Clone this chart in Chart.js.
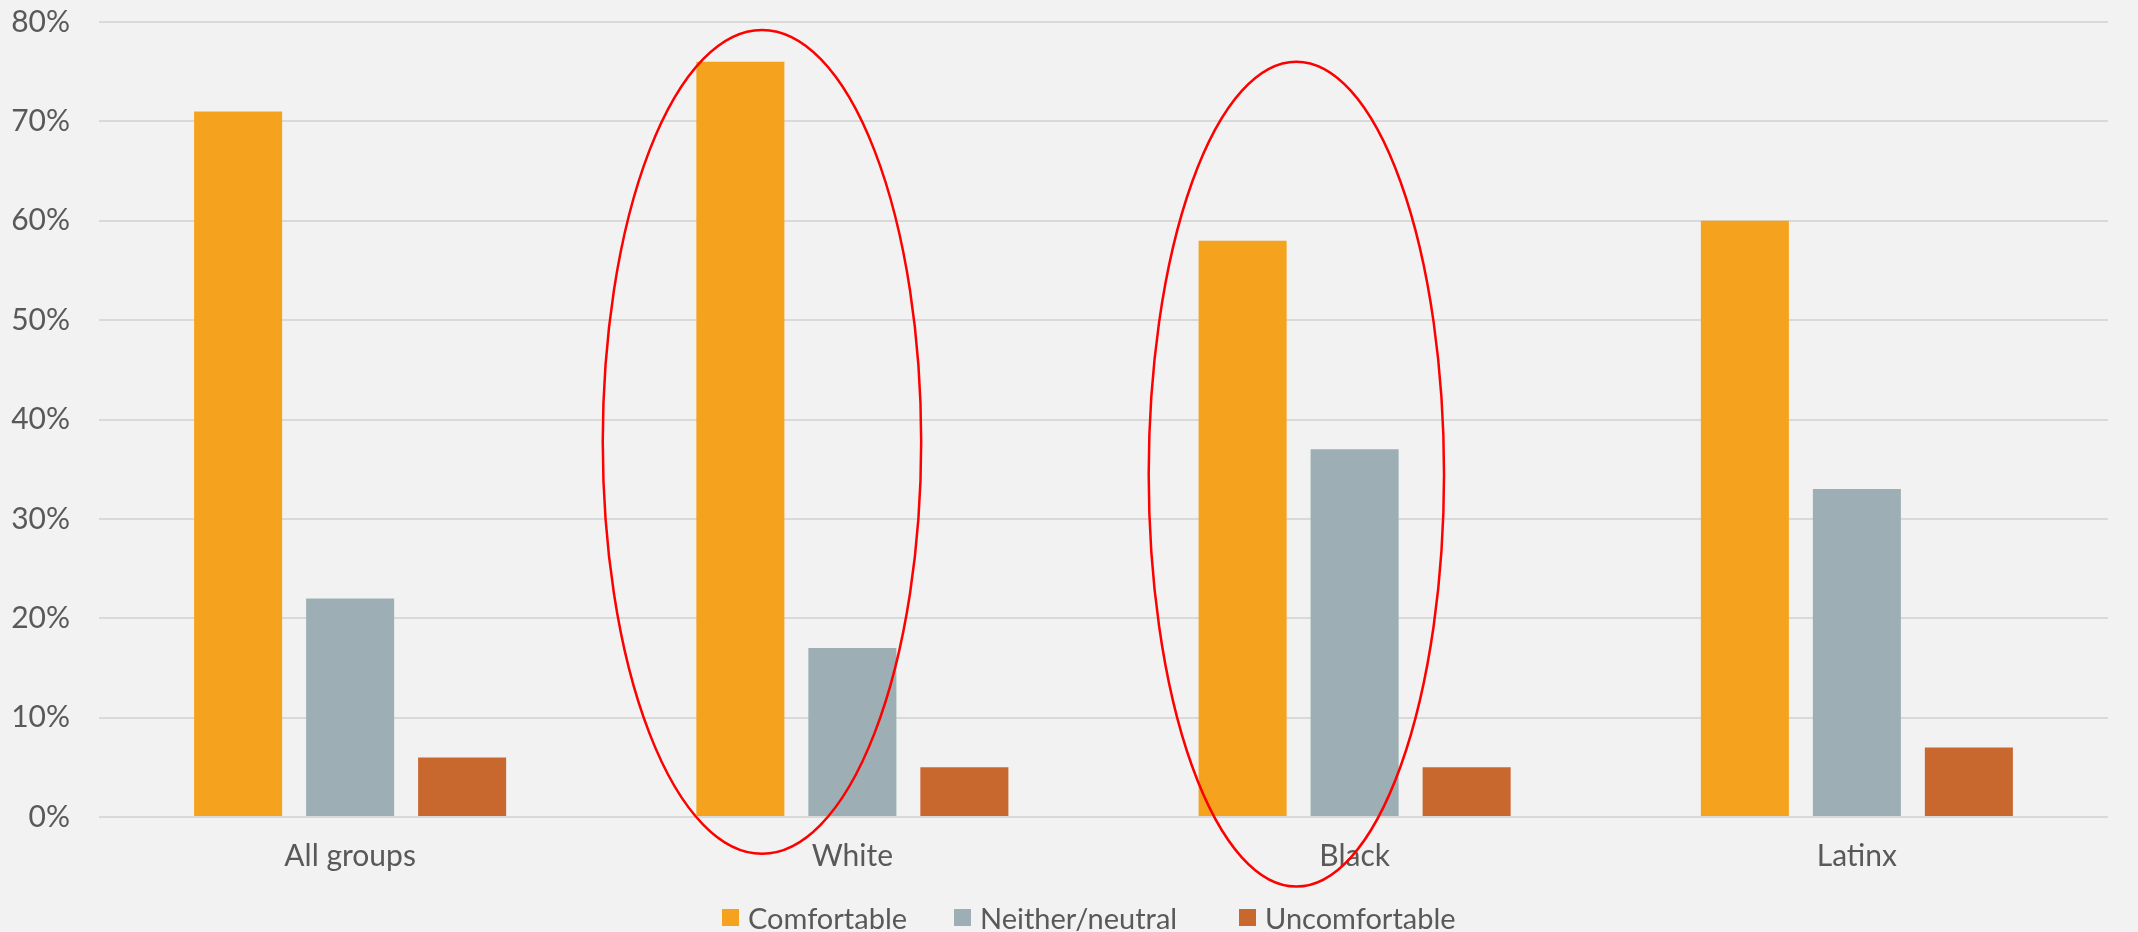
<!DOCTYPE html>
<html>
<head>
<meta charset="utf-8">
<script src="https://cdn.jsdelivr.net/npm/chart.js@4"></script>
<style>
  html, body { margin: 0; padding: 0; background: #f2f2f2; }
  #wrap { position: relative; width: 2138px; height: 932px; }
  #legend {
    position: absolute; left: 722px; top: 900px; height: 35px;
    display: flex; align-items: center;
    font-family: Lato, "Open Sans", sans-serif; font-size: 29px; color: #595959;
  }
  #legend .item { display: flex; align-items: center; white-space: nowrap; }
  #legend .item:nth-child(1) { width: 232px; }
  #legend .item:nth-child(2) { width: 285px; }
  #legend .box { width: 17px; height: 17px; margin-right: 9px; }
</style>
</head>
<body>
<div id="wrap"><canvas id="chart"></canvas><div id="legend"></div></div>
<script>
const groups = ['All groups', 'White', 'Black', 'Latinx']
const comfortable = [71, 76, 58, 60]
const neutral = [22, 17, 37, 33]
const uncomfortable = [6, 5, 5, 7]
const yTicks = [0, 10, 20, 30, 40, 50, 60, 70, 80]

// red ovals drawn over White and Black (category index, offset, half width in categories, top/bottom in %)
const ovals = [
    { cat: 1, shift: -0.18, rx: 0.317, top: 79.2, bottom: -3.7 },
    { cat: 2, shift: -0.116, rx: 0.294, top: 76, bottom: -7 }
]

const textColor = '#595959'
const font = { family: 'Lato, "Open Sans", sans-serif', size: 30 }

const ovalPlugin = {
    id: 'ovals',
    afterDatasetsDraw(chart) {
        const { ctx, scales: { x, y } } = chart
        const catW = x.getPixelForValue(1) - x.getPixelForValue(0)
        ctx.save()
        ctx.strokeStyle = '#ff0000'
        ctx.lineWidth = 2.5
        ovals.forEach((o) => {
            const cx = x.getPixelForValue(o.cat) + o.shift * catW
            const top = y.getPixelForValue(o.top)
            const bottom = y.getPixelForValue(o.bottom)
            ctx.beginPath()
            ctx.ellipse(cx, (top + bottom) / 2, o.rx * catW, (bottom - top) / 2, 0, 0, Math.PI * 2)
            ctx.stroke()
        })
        ctx.restore()
    }
}

const bg = {
    id: 'bg',
    beforeDraw(chart) {
        const ctx = chart.ctx
        ctx.save()
        ctx.fillStyle = '#f2f2f2'
        ctx.fillRect(0, 0, chart.width, chart.height)
        ctx.restore()
    }
}

var ctx = document.getElementById('chart').getContext('2d')
var chart = new Chart(ctx, {
    type: 'bar',
    data: {
        labels: groups,
        datasets: [{
            label: 'Comfortable',
            backgroundColor: '#f5a31e',
            data: comfortable
        }, {
            label: 'Neither/neutral',
            backgroundColor: '#9dafb4',
            data: neutral
        }, {
            label: 'Uncomfortable',
            backgroundColor: '#c8682f',
            data: uncomfortable
        }]
    },
    options: {
        responsive: true,
        maintainAspectRatio: false,
        animation: false,
        categoryPercentage: 0.669,
        barPercentage: 0.786,
        layout: { padding: { top: 22, right: 30, left: 0, bottom: 0 } },
        plugins: {
            legend: { display: false },
            tooltip: { enabled: false }
        },
        scales: {
            x: {
                grid: { display: false },
                border: { display: false },
                ticks: { color: textColor, font: font, padding: 13 },
                afterFit: (axis) => {
                    axis.height = 115
                    axis.paddingLeft = 0
                    axis.paddingRight = 0
                }
            },
            y: {
                min: 0,
                max: 80,
                afterBuildTicks: (axis) => {
                    axis.ticks = yTicks.map((v) => ({ value: v }))
                },
                afterFit: (axis) => {
                    axis.width = 99
                    axis.paddingTop = 0
                    axis.paddingBottom = 0
                },
                grid: { color: '#d9d9d9', lineWidth: 2, drawTicks: false },
                border: { display: false },
                ticks: {
                    color: textColor,
                    font: font,
                    padding: 29,
                    callback: (v) => v + '%'
                }
            }
        }
    },
    plugins: [bg, ovalPlugin]
})

// legend built from the datasets
const legendEl = document.getElementById('legend')
chart.data.datasets.forEach((ds) => {
    const item = document.createElement('div')
    item.className = 'item'
    const box = document.createElement('span')
    box.className = 'box'
    box.style.background = ds.backgroundColor
    const label = document.createElement('span')
    label.textContent = ds.label
    item.appendChild(box)
    item.appendChild(label)
    legendEl.appendChild(item)
})
</script>
</body>
</html>
